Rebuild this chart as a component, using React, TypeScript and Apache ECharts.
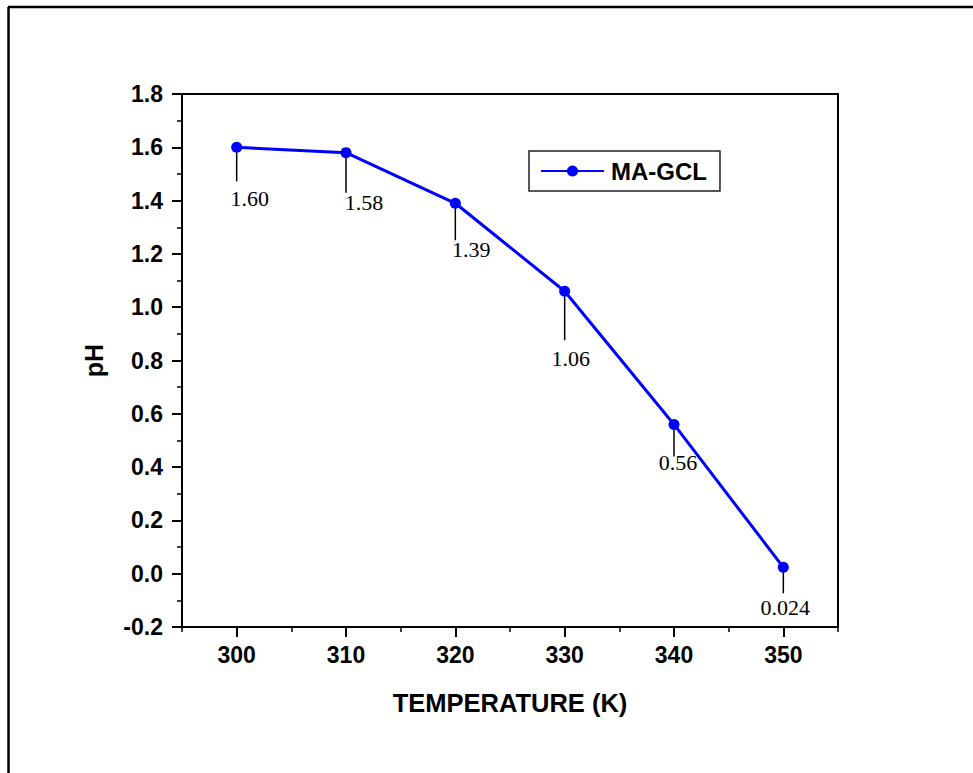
import React, { useEffect, useRef } from "react";
import * as echarts from "echarts";

// ---- data ----
const temperatures = [300, 310, 320, 330, 340, 350];
const pHValues = [1.6, 1.58, 1.39, 1.06, 0.56, 0.024];
const seriesName = "MA-GCL";
const xTickValues = [300, 310, 320, 330, 340, 350];
const xMinorTickValues = [295, 305, 315, 325, 335, 345, 355];
const xAxisTitle = "TEMPERATURE (K)";
const yAxisTitle = "pH";

// ---- label layout (pixels, relative to each point) ----
const labelDx = [13, 18, 16, 6, 4, 2];
const labelDy = [51, 50, 46, 67, 38, 40];
const leaderLen = [34, 40, 37, 49, 32, 26];

const fmtLabel = (v: number) => {
  const s = String(v);
  const dec = s.includes(".") ? s.split(".")[1].length : 0;
  return v.toFixed(Math.max(2, dec));
};

const SANS = "Arial, 'Liberation Sans', sans-serif";
const SERIF = "'Times New Roman', 'Liberation Serif', serif";

export default function App() {
  const ref = useRef<HTMLDivElement>(null);

  useEffect(() => {
    if (!ref.current) return;
    const chart = echarts.init(ref.current, undefined, { renderer: "svg" });
    const data = temperatures.map((t, i) => [t, pHValues[i]]);

    chart.setOption({
      animation: false,
      backgroundColor: "#fff",
      grid: {
        left: 182,
        right: 135,
        top: 94,
        bottom: 146,
        show: true,
        borderColor: "#000",
        borderWidth: 2,
        containLabel: false,
        outerBoundsMode: "none",
      },
      legend: {
        left: 529,
        top: 151,
        orient: "horizontal",
        padding: [8, 13, 8, 11],
        itemWidth: 63,
        itemHeight: 14,
        itemGap: 7,
        borderColor: "#222",
        borderWidth: 1.5,
        textStyle: {
          fontFamily: SANS,
          fontWeight: "bold",
          fontSize: 24,
          color: "#000",
          padding: [0, 0, 0, 2],
        },
        data: [seriesName],
      },
      xAxis: [
        {
          type: "value",
          min: 295,
          max: 355,
          name: xAxisTitle,
          nameLocation: "middle",
          nameGap: 63,
          nameTextStyle: {
            fontFamily: SANS,
            fontWeight: "bold",
            fontSize: 25.5,
            color: "#000",
          },
          axisLine: { show: true, onZero: false, lineStyle: { color: "#000", width: 2 } },
          axisTick: {
            show: true,
            inside: false,
            length: 10,
            customValues: xTickValues,
            lineStyle: { color: "#000", width: 2 },
          },
          axisLabel: {
            show: true,
            customValues: xTickValues,
            margin: 16,
            fontFamily: SANS,
            fontWeight: "bold",
            fontSize: 23,
            color: "#000",
          },
          splitLine: { show: false },
        },
        {
          type: "value",
          min: 295,
          max: 355,
          position: "bottom",
          axisLine: { show: false, onZero: false },
          axisTick: {
            show: true,
            inside: false,
            length: 5,
            customValues: xMinorTickValues,
            lineStyle: { color: "#000", width: 1.5 },
          },
          axisLabel: { show: false },
          splitLine: { show: false },
        },
      ],
      yAxis: {
        type: "value",
        min: -0.2,
        max: 1.8,
        interval: 0.2,
        name: yAxisTitle,
        nameLocation: "middle",
        nameGap: 76,
        nameTextStyle: {
          fontFamily: SANS,
          fontWeight: "bold",
          fontSize: 25,
          color: "#000",
        },
        axisLine: { show: true, onZero: false, lineStyle: { color: "#000", width: 2 } },
        axisTick: { show: true, inside: false, length: 10, lineStyle: { color: "#000", width: 2 } },
        minorTick: { show: true, splitNumber: 2, length: 5, lineStyle: { color: "#000", width: 1.5 } },
        axisLabel: {
          margin: 19,
          fontFamily: SANS,
          fontWeight: "bold",
          fontSize: 23,
          color: "#000",
          formatter: (v: number) => v.toFixed(1),
        },
        splitLine: { show: false },
      },
      graphic: [
        {
          type: "line",
          shape: { x1: 8, y1: 7, x2: 973, y2: 7 },
          style: { stroke: "#000", lineWidth: 2.5 },
          silent: true,
        },
        {
          type: "line",
          shape: { x1: 8.5, y1: 7, x2: 8.5, y2: 773 },
          style: { stroke: "#000", lineWidth: 2.5 },
          silent: true,
        },
      ],
      series: [
        {
          type: "custom",
          name: "labels",
          xAxisIndex: 0,
          yAxisIndex: 0,
          z: 1,
          silent: true,
          data,
          renderItem: (params: any, api: any) => {
            const i = params.dataIndex;
            const p = api.coord([api.value(0), api.value(1)]);
            return {
              type: "group",
              children: [
                {
                  type: "line",
                  shape: { x1: p[0], y1: p[1], x2: p[0], y2: p[1] + leaderLen[i] },
                  style: { stroke: "#000", lineWidth: 1.5 },
                },
                {
                  type: "text",
                  x: p[0] + labelDx[i],
                  y: p[1] + labelDy[i],
                  style: {
                    text: fmtLabel(api.value(1)),
                    fontFamily: SERIF,
                    fontSize: 22,
                    fill: "#000",
                    align: "center",
                    verticalAlign: "middle",
                  },
                },
              ],
            };
          },
        },
        {
          type: "line",
          name: seriesName,
          xAxisIndex: 0,
          yAxisIndex: 0,
          z: 3,
          data,
          color: "#0000ff",
          symbol: "circle",
          symbolSize: 11,
          lineStyle: { color: "#0000ff", width: 3 },
          itemStyle: { color: "#0000ff" },
        },
      ],
    });

    return () => chart.dispose();
  }, []);

  return (
    <div
      ref={ref}
      style={{ position: "absolute", left: 0, top: 0, width: 973, height: 773 }}
    />
  );
}
